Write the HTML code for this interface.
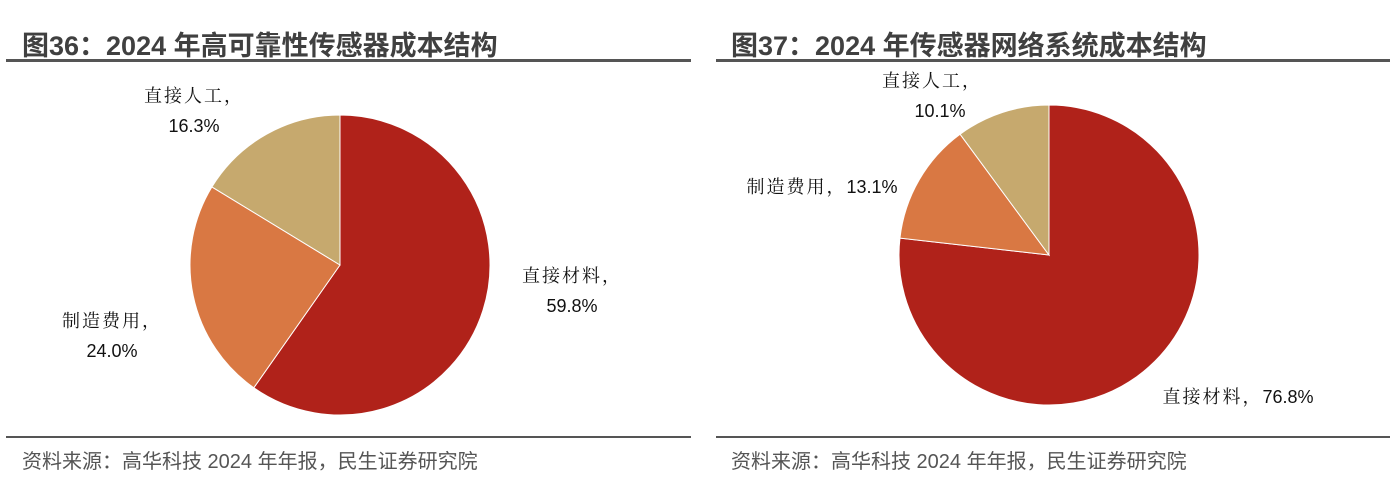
<!DOCTYPE html>
<html><head><meta charset="utf-8"><style>
body{margin:0;width:1394px;height:488px;background:#fff;overflow:hidden;font-family:"Liberation Sans","Noto Sans CJK SC",sans-serif}
.t{position:absolute;top:24px;font-size:27px;font-weight:bold;color:#404040;white-space:nowrap}
.ln{position:absolute;background:#555}
.src{position:absolute;top:445px;font-size:20px;color:#555;white-space:nowrap}
svg{position:absolute;left:0;top:0}
</style></head><body>
<div class="t" style="left:22px">图36：2024 年高可靠性传感器成本结构</div>
<div class="t" style="left:731px">图37：2024 年传感器网络系统成本结构</div>
<div class="ln" style="left:6px;top:59px;width:685px;height:3px"></div>
<div class="ln" style="left:716px;top:59px;width:674px;height:3px"></div>
<div class="ln" style="left:6px;top:436px;width:685px;height:2px"></div>
<div class="ln" style="left:716px;top:436px;width:674px;height:2px"></div>
<div class="src" style="left:22px">资料来源：高华科技 2024 年年报，民生证券研究院</div>
<div class="src" style="left:731px">资料来源：高华科技 2024 年年报，民生证券研究院</div>
<svg id="s" width="1394" height="488"></svg>
<script>
const categories=["直接材料","制造费用","直接人工"];
const leftValues=[59.8,24.0,16.3];
const rightValues=[76.8,13.1,10.1];
const colors=["#B0221A","#D97843","#C6A96E"];
const NS="http://www.w3.org/2000/svg";
const svg=document.getElementById('s');
function pie(cx,cy,r,vals,prefix){
  const tot=vals.reduce((a,b)=>a+b,0);let a0=0;
  vals.forEach((v,i)=>{
    const a1=a0+v/tot*2*Math.PI;
    const x0=cx+r*Math.sin(a0),y0=cy-r*Math.cos(a0),x1=cx+r*Math.sin(a1),y1=cy-r*Math.cos(a1);
    const p=document.createElementNS(NS,'path');
    p.setAttribute('d',`M${cx},${cy}L${x0},${y0}A${r},${r} 0 ${a1-a0>Math.PI?1:0} 1 ${x1},${y1}Z`);
    p.setAttribute('fill',colors[i]);p.setAttribute('stroke','#fff');p.setAttribute('stroke-width','1');
    
    
    svg.appendChild(p);a0=a1;
  });
}
pie(340,265,150,leftValues,'left');
pie(1049,255,150,rightValues,'right');
function lab(x,y,cjk,num,name){
  const t=document.createElementNS(NS,'text');
  t.setAttribute('x',x);t.setAttribute('y',y);t.setAttribute('text-anchor','middle');
  t.setAttribute('font-size','18');t.setAttribute('fill','#111');
  
  
  if(cjk){
    const a=document.createElementNS(NS,'tspan');
    a.setAttribute('font-family','"Noto Serif CJK SC",serif');
    a.setAttribute('letter-spacing','2');
    a.textContent=cjk;t.appendChild(a);
  }
  if(num){
    const b=document.createElementNS(NS,'tspan');
    b.setAttribute('font-family','"Liberation Sans",sans-serif');
    b.textContent=num;t.appendChild(b);
  }
  svg.appendChild(t);
}
lab(194,102,categories[2]+'，','','left-label-labor');lab(194,132,'',leftValues[2].toFixed(1)+'%','left-value-labor');
lab(572,282,categories[0]+'，','','left-label-material');lab(572,312,'',leftValues[0].toFixed(1)+'%','left-value-material');
lab(112,327,categories[1]+'，','','left-label-mfg');lab(112,357,'',leftValues[1].toFixed(1)+'%','left-value-mfg');
lab(932,87,categories[2]+'，','','right-label-labor');lab(940,117,'',rightValues[2].toFixed(1)+'%','right-value-labor');
lab(822,193,categories[1]+'，',rightValues[1].toFixed(1)+'%','right-label-mfg');
lab(1238,403,categories[0]+'，',rightValues[0].toFixed(1)+'%','right-label-material');
</script>
</body></html>
